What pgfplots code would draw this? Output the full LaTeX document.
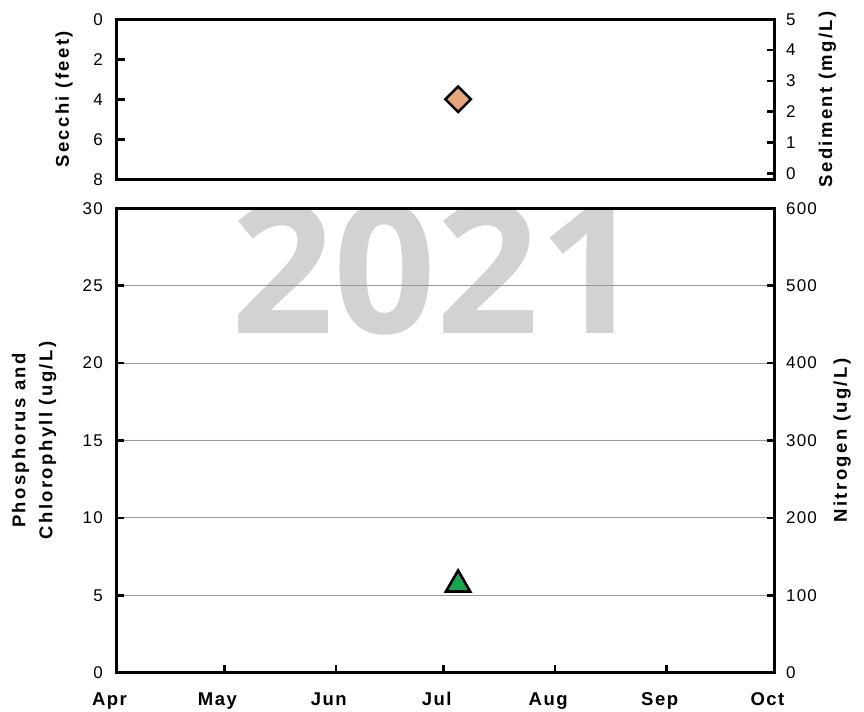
\documentclass[border=0pt]{standalone}
\usepackage{fontspec}
\setmainfont{Liberation Sans}
\newfontfamily\labf{Liberation Sans}[LetterSpace=13]
\newfontfamily\monf{Liberation Sans}[LetterSpace=8]
\newfontfamily\numf{Liberation Sans}[LetterSpace=7]
\newfontfamily\wmf{Open Sans}
\usepackage{pgfplots}
\pgfplotsset{compat=1.18}
\definecolor{gridc}{RGB}{160,150,140}
\definecolor{diam}{RGB}{230,165,125}
\definecolor{tri}{RGB}{22,168,80}
\definecolor{wmc}{RGB}{209,210,212}
\pgfplotsset{
  base/.style={
    scale only axis, width=658bp, xmin=0, xmax=183, anchor=south west,
    axis line style={line width=2.6bp, black},
    tick style={line width=2.6bp, black},
    major tick length=8bp, tick align=inside,
    tick label style={font=\numf\fontsize{17bp}{20bp}\selectfont},
    /pgf/number format/assume math mode=true,
    yticklabel style={inner sep=0pt},
    ylabel style={font=\labf\bfseries\fontsize{18.5bp}{27bp}\selectfont, inner sep=0pt},
  },
  leftax/.style={base, ytick pos=left, yticklabel style={anchor=east, xshift=-13.5bp}},
  rightax/.style={base, axis y line*=right, axis x line=none,
    yticklabel style={anchor=west, xshift=11.5bp}},
}
\begin{document}
\begin{tikzpicture}
\useasboundingbox (0,0) rectangle (864bp,712bp);
% watermark
\begin{axis}[base, at={(116.5bp,39.3bp)}, height=464.4bp, ymin=0, ymax=30, hide axis, clip=true]
\node[inner sep=0pt, text=wmc, font=\wmf\bfseries\fontsize{180bp}{182bp}\selectfont] at (axis cs:89.0,26.1) {2021};
\end{axis}
% bottom left
\begin{axis}[leftax, at={(116.5bp,39.3bp)}, height=464.4bp, ymin=0, ymax=30,
  ytick={0,5,...,30}, ymajorgrids, grid style={gridc, line width=1bp},
  xtick={0,30,61,91,122,153,183}, xtick pos=bottom,
  xticklabels={Apr,May,Jun,Jul,Aug,Sep,Oct},
  xticklabel style={font=\monf\bfseries\fontsize{18.5bp}{20bp}\selectfont, anchor=base, yshift=-32.4bp, xshift=-7bp},
  ylabel={Phosphorus and\\Chlorophyll (ug/L)},
  ylabel style={align=center, anchor=north, at={(axis description cs:-0.1593,0.5)}},
  clip=false]
\addplot[only marks, mark=triangle*, mark size=14bp, mark options={fill=tri, draw=black, line width=2.6bp}] coordinates {(95,5.7)};
\end{axis}
% bottom right
\begin{axis}[rightax, at={(116.5bp,39.3bp)}, height=464.4bp, ymin=0, ymax=600,
  ytick={0,100,...,600},
  ylabel={Nitrogen (ug/L)},
  ylabel style={anchor=base, at={(axis description cs:1.110,0.5)}}]
\addplot[draw=none] coordinates {(0,0)};
\end{axis}
% top left
\begin{axis}[leftax, at={(116.5bp,532.7bp)}, height=160bp, ymin=0, ymax=8, y dir=reverse,
  ytick={0,2,...,8}, xtick=\empty,
  ylabel={Secchi (feet)},
  ylabel style={anchor=base, at={(axis description cs:-0.0722,0.5)}},
  clip=false]
\addplot[only marks, mark=square*, mark size=9bp, mark options={rotate=45, fill=diam, draw=black, line width=2.5bp}] coordinates {(95,4)};
\end{axis}
% top right
\begin{axis}[rightax, at={(116.5bp,532.7bp)}, height=160bp, ymin=-0.195, ymax=5,
  ytick={0,1,...,5},
  ylabel={Sediment (mg/L)},
  ylabel style={anchor=base, at={(axis description cs:1.0874,0.5)}}]
\addplot[draw=none] coordinates {(0,0)};
\end{axis}
\end{tikzpicture}
\end{document}
